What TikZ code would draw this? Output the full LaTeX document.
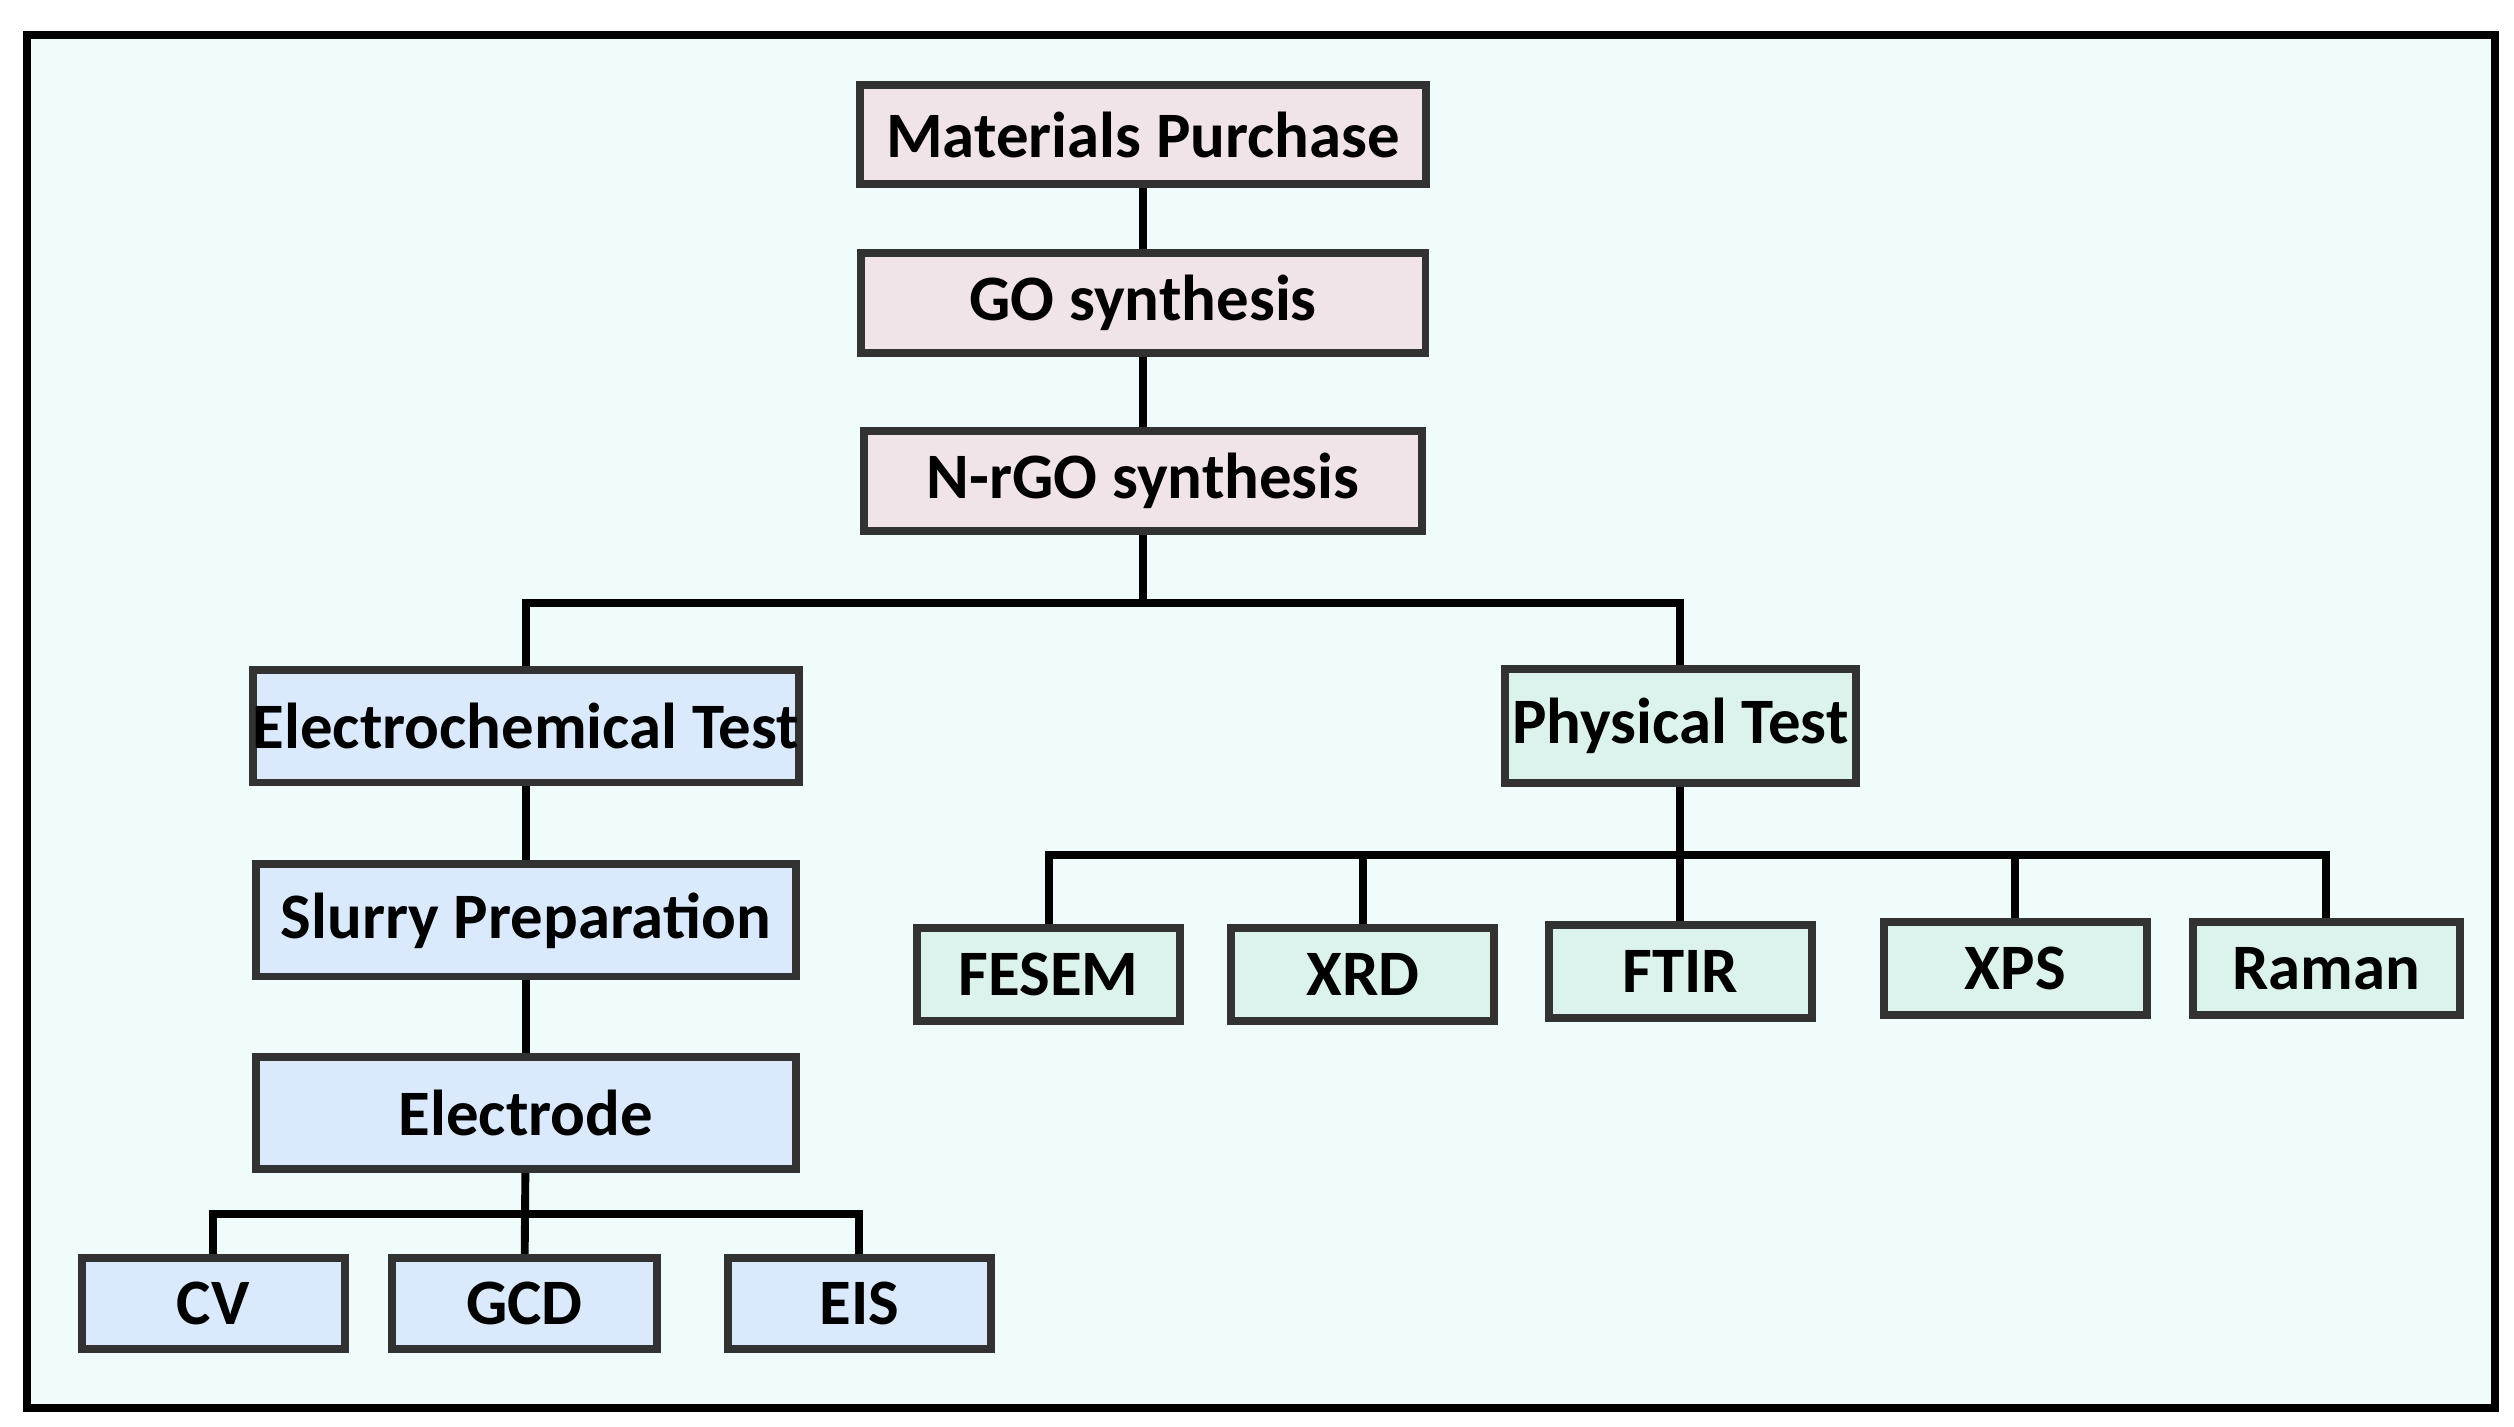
\documentclass[tikz,border=0pt]{standalone}
\usepackage{fontspec}
\setmainfont{Carlito}
\definecolor{bgcyan}{RGB}{240,252,252}
\definecolor{pinkbox}{RGB}{240,228,232}
\definecolor{bluebox}{RGB}{218,234,252}
\definecolor{greenbox}{RGB}{220,242,236}
\definecolor{edgegray}{RGB}{50,50,50}
\tikzstyle{stage} = [rectangle,
draw=edgegray,
line width=1.4pt,
font=\fontsize{11.5}{13}\selectfont\bfseries,
inner sep=0pt,
text centered]
\tikzstyle{synth} = [stage, fill=pinkbox, minimum height=0.62cm]
\tikzstyle{echem} = [stage, fill=bluebox, minimum height=0.7cm, minimum width=3.37cm]
\tikzstyle{phys} = [stage, fill=greenbox, minimum height=0.58cm, minimum width=1.64cm]
\tikzstyle{small} = [stage, fill=bluebox, minimum height=0.57cm, minimum width=1.64cm]
\tikzstyle{line} = [line width=1.4pt]

\begin{document}
\begin{tikzpicture}[x=0.01cm, y=-0.01cm]
\useasboundingbox (0,0) rectangle (1568,890);
\draw[line width=1.4pt, fill=bgcyan] (17,22) rectangle (1556,878);

\node (purchase) [synth, minimum width=3.53cm] at (713,84) {Materials Purchase};
\node (go) [synth, minimum width=3.52cm] at (713,189) {GO synthesis};
\node (nrgo) [synth, minimum width=3.48cm] at (713,300) {N-rGO synthesis};

\node (electest) [echem] at (328,453) {Electrochemical Test};
\node (slurry) [echem] at (328,574) {Slurry Preparation};
\node (electrode) [echem] at (328,694) {Electrode};
\node (phystest) [phys, minimum width=2.19cm, minimum height=0.71cm] at (1048,453) {Physical Test};

\node (fesem) [phys] at (654,608) {FESEM};
\node (xrd) [phys] at (850,608) {XRD};
\node (ftir) [phys] at (1048,606) {FTIR};
\node (xps) [phys] at (1257,604) {XPS};
\node (raman) [phys, minimum width=1.66cm] at (1451,604) {Raman};

\node (cv) [small] at (133,813) {CV};
\node (gcd) [small, minimum width=1.65cm] at (327,813) {GCD};
\node (eis) [small] at (536,813) {EIS};

\coordinate (split1) at (713,376);
\coordinate (split2) at (1048,533);
\coordinate (split3) at (328,757);

\draw [line] (purchase) -- (go);
\draw [line] (go) -- (nrgo);
\draw [line] (nrgo) -- (split1);
\draw [line] (electest.north) |- (split1) -| (phystest.north);
\draw [line] (electest) -- (slurry);
\draw [line] (slurry) -- (electrode);
\draw [line] (electrode) -- (gcd);
\draw [line] (cv.north) |- (split3) -| (eis.north);
\draw [line] (phystest) -- (ftir);
\draw [line] (fesem.north) |- (split2) -| (raman.north);
\draw [line] (xrd.north) |- (split2);
\draw [line] (xps.north) |- (split2);
\end{tikzpicture}
\end{document}
